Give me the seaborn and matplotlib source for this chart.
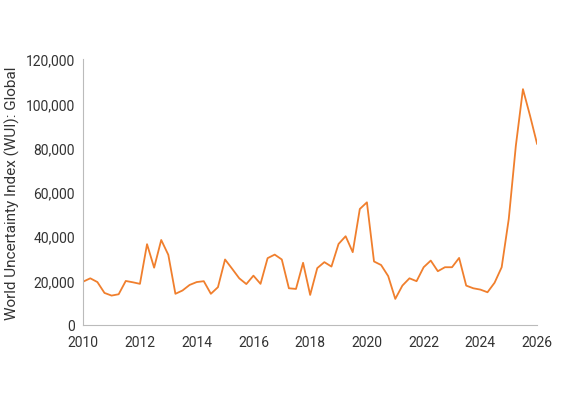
import matplotlib
matplotlib.use("Agg")
import matplotlib.pyplot as plt
import matplotlib.ticker as mt
import seaborn as sns
import pandas as pd
import numpy as np

wui = [19.5, 21, 19.3, 14.4, 13.2, 13.8, 19.8, 19.2, 18.5, 36.4, 25.8, 38.3, 31.6, 14, 15.5, 18,
       19.3, 19.7, 14, 17, 29.5, 25.3, 21, 18.4, 22.2, 18.5, 30.1, 31.7, 29.5, 16.5, 16.2, 28,
       13.5, 25.6, 28.3, 26.3, 36.5, 40, 32.8, 52.3, 55.3, 28.6, 27, 22, 11.7, 17.7, 21, 19.7,
       26, 29, 24.2, 26, 26, 30.2, 17.7, 16.5, 15.9, 14.7, 19, 26, 47.8, 80.9, 106.4, 94.4, 81.6]
dates = [2010 + 0.25 * i for i in range(len(wui))]
df = pd.DataFrame({"date": dates, "wui": [v * 1000 for v in wui]})

sns.set_style("white")
plt.rcParams['font.family'] = ['Roboto', 'DejaVu Sans']
fig = plt.figure(figsize=(5.66, 4.14), dpi=100)
ax = fig.add_axes([0.147, 0.213, 0.802, 0.642])
sns.lineplot(data=df, x="date", y="wui", color="#f07f2d", linewidth=1.3, ax=ax)
ax.set_xlim(2010, 2026)
ax.set_ylim(0, 120000)
ax.set_xticks(range(2010, 2027, 2))
ax.set_yticks(range(0, 120001, 20000))
ax.yaxis.set_major_formatter(mt.FuncFormatter(lambda v, p: f"{int(v):,}"))
ax.set_xlabel("")
ax.set_ylabel("World Uncertainty Index (WUI): Global", fontsize=11, color="#333333")
for s in ["top", "right"]:
    ax.spines[s].set_visible(False)
for s in ["left", "bottom"]:
    ax.spines[s].set_color("#bbbbbb")
ax.tick_params(labelsize=10, colors="#333333", length=0)
ax.tick_params(axis="y", pad=6)
ax.tick_params(axis="x", pad=7)
fig.savefig("out.png", dpi=100)
